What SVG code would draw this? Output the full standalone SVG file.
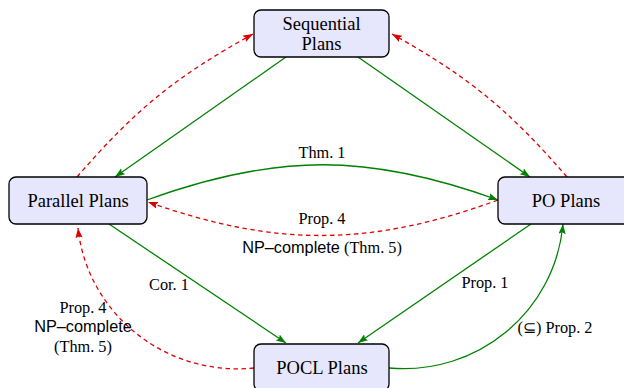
<svg xmlns="http://www.w3.org/2000/svg" width="624" height="388" viewBox="0 0 624 388">
  <style>
    .node rect { fill: #e6e6fc; stroke: #000; stroke-width: 1.3; }
    .ntxt { font-family: "Liberation Serif", "Times New Roman", serif; font-size: 18.5px; fill: #000; text-anchor: middle; }
    .lbl { font-family: "Liberation Serif", "Times New Roman", serif; font-size: 16.3px; fill: #000; text-anchor: middle; }
    .sans { font-family: "Liberation Sans", Arial, sans-serif; }
    .g { fill: none; stroke: #008000; stroke-width: 1.3; marker-end: url(#ag); }
    .r { fill: none; stroke: #dd0000; stroke-width: 1.3; stroke-dasharray: 4.5 3.5; marker-end: url(#ar); }
  </style>
  <defs>
    <marker id="ag" markerUnits="userSpaceOnUse" markerWidth="12" markerHeight="9" refX="10" refY="3.6" orient="auto">
      <path d="M0,0 L10,3.6 L0,7.2 L1.8,3.6 z" fill="#008000"/>
    </marker>
    <marker id="ar" markerUnits="userSpaceOnUse" markerWidth="12" markerHeight="9" refX="10" refY="3.6" orient="auto">
      <path d="M0,0 L10,3.6 L0,7.2 L1.8,3.6 z" fill="#dd0000"/>
    </marker>
  </defs>

  <g id="connectors">
    <path class="g" d="M286,57 L115,177"/>
    <path class="g" d="M358,57 L530,177"/>
    <path class="g" d="M147,200 C276,153 369,153 498,200"/>
    <path class="g" d="M109,224 L286,343"/>
    <path class="g" d="M531,224 L358,343"/>
    <path class="g" d="M389,368 C477,376 555,312 563,224"/>
    <path class="r" d="M77,177 C135,110 175,77 253,34"/>
    <path class="r" d="M567,177 C509,110 469,77 392,34"/>
    <path class="r" d="M498,200 C369,247 276,247 148,202"/>
    <path class="r" d="M254,368 C165,377 87,313 78,228"/>

    <text class="lbl" x="322" y="158">Thm. 1</text>
    <text class="lbl" x="322" y="224">Prop. 4</text>
    <text class="lbl" x="322" y="253"><tspan class="sans">NP–complete</tspan> (Thm. 5)</text>
    <text class="lbl" x="169" y="290">Cor. 1</text>
    <text class="lbl" x="485" y="288">Prop. 1</text>
    <text class="lbl" x="555" y="333">(⊆) Prop. 2</text>
    <text class="lbl" x="83" y="313">Prop. 4</text>
    <text class="lbl sans" x="83" y="332">NP–complete</text>
    <text class="lbl" x="83" y="352">(Thm. 5)</text>
  </g>

  <g id="sequential" class="node">
    <rect x="254" y="10" width="135" height="47" rx="7"/>
    <text class="ntxt" x="321.5" y="30">Sequential</text>
    <text class="ntxt" x="321.5" y="50">Plans</text>
  </g>
  <g id="parallel" class="node">
    <rect x="9" y="177" width="138" height="47" rx="7"/>
    <text class="ntxt" x="78" y="207">Parallel Plans</text>
  </g>
  <g id="po" class="node">
    <rect x="498" y="177" width="138" height="47" rx="7"/>
    <text class="ntxt" x="566" y="207">PO Plans</text>
  </g>
  <g id="pocl" class="node">
    <rect x="254" y="344" width="135" height="47" rx="7"/>
    <text class="ntxt" x="322" y="374">POCL Plans</text>
  </g>
</svg>
